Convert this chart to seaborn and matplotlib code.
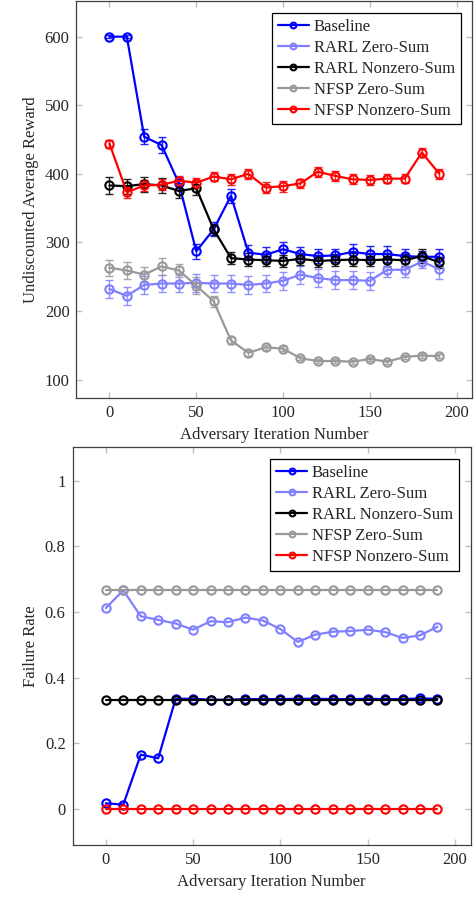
import matplotlib
matplotlib.use('Agg')
import matplotlib.pyplot as plt
import seaborn as sns
import pandas as pd
from matplotlib.ticker import FuncFormatter

iterations = list(range(0, 200, 10))
series_names = ['Baseline', 'RARL Zero-Sum', 'RARL Nonzero-Sum', 'NFSP Zero-Sum', 'NFSP Nonzero-Sum']
series_colors = ['#0000ff', '#8080ff', '#000000', '#999999', '#ff0000']

# undiscounted average reward (top panel)
reward_baseline = [600, 600, 454, 442, 386, 287, 319, 368, 285, 282, 290, 283, 280, 281, 286, 283, 283, 280, 279, 279]
reward_rarl_zero = [232, 222, 238, 240, 240, 241, 240, 240, 238, 240, 244, 253, 248, 245, 245, 244, 260, 260, 272, 261]
reward_rarl_nonzero = [383, 382, 385, 383, 375, 379, 319, 277, 275, 274, 273, 276, 273, 274, 275, 274, 275, 274, 280, 271]
reward_nfsp_zero = [263, 259, 253, 265, 259, 237, 214, 157, 139, 147, 145, 131, 127, 127, 126, 130, 126, 133, 135, 134]
reward_nfsp_nonzero = [444, 373, 383, 384, 390, 387, 396, 392, 400, 380, 382, 386, 403, 397, 392, 391, 393, 393, 431, 400]

err_baseline = [2, 2, 11, 11, 10, 11, 10, 10, 11, 11, 11, 10, 10, 10, 11, 11, 11, 10, 8, 11]
err_rarl_zero = [13, 13, 13, 13, 13, 13, 13, 13, 13, 13, 13, 13, 13, 13, 13, 13, 10, 10, 10, 14]
err_rarl_nonzero = [12, 11, 11, 11, 11, 10, 8, 9, 9, 9, 9, 9, 9, 9, 9, 9, 9, 9, 10, 8]
err_nfsp_zero = [12, 12, 11, 12, 10, 12, 8, 5, 4, 4, 4, 3, 3, 3, 3, 3, 3, 3, 3, 3]
err_nfsp_nonzero = [6, 8, 8, 8, 7, 7, 7, 8, 7, 8, 8, 7, 7, 7, 7, 7, 7, 7, 7, 7]

# failure rate (bottom panel)
fail_baseline = [0.018, 0.014, 0.166, 0.155, 0.336, 0.336, 0.333, 0.333, 0.335, 0.335,
                 0.335, 0.336, 0.336, 0.335, 0.335, 0.336, 0.335, 0.335, 0.337, 0.336]
fail_rarl_zero = [0.612, 0.666, 0.587, 0.576, 0.565, 0.546, 0.572, 0.569, 0.583, 0.574,
                  0.548, 0.509, 0.531, 0.540, 0.542, 0.546, 0.539, 0.521, 0.529, 0.555]
fail_rarl_nonzero = [0.333] * 20
fail_nfsp_zero = [0.667] * 20
fail_nfsp_nonzero = [0.0] * 20

rewards = [reward_baseline, reward_rarl_zero, reward_rarl_nonzero, reward_nfsp_zero, reward_nfsp_nonzero]
errors = [err_baseline, err_rarl_zero, err_rarl_nonzero, err_nfsp_zero, err_nfsp_nonzero]
failures = [fail_baseline, fail_rarl_zero, fail_rarl_nonzero, fail_nfsp_zero, fail_nfsp_nonzero]

sns.set_style('ticks')
plt.rcParams['font.family'] = ['Liberation Serif', 'DejaVu Serif']
plt.rcParams['font.size'] = 12
plt.rcParams['mathtext.fontset'] = 'stix'

fig = plt.figure(figsize=(4.76, 9.18), dpi=100)
ax1 = fig.add_axes([0.1607, 0.5664, 0.8315, 0.4325])
ax2 = fig.add_axes([0.1527, 0.0795, 0.836, 0.4332])

for name, color, vals, err in zip(series_names, series_colors, rewards, errors):
    df = pd.DataFrame({'iteration': iterations, 'value': vals})
    ax1.errorbar(df['iteration'], df['value'], yerr=err, fmt='none', ecolor=color,
                 elinewidth=1.0, capsize=3, capthick=1.0, alpha=0.85, zorder=2)
    sns.lineplot(data=df, x='iteration', y='value', ax=ax1, color=color, label=name,
                 marker='o', markersize=6, markerfacecolor='none', markeredgecolor=color,
                 markeredgewidth=1.5, linewidth=1.6, errorbar=None, zorder=3)

for name, color, vals in zip(series_names, series_colors, failures):
    df = pd.DataFrame({'iteration': iterations, 'value': vals})
    sns.lineplot(data=df, x='iteration', y='value', ax=ax2, color=color, label=name,
                 marker='o', markersize=6, markerfacecolor='none', markeredgecolor=color,
                 markeredgewidth=1.5, linewidth=1.6, errorbar=None)

ax1.set_xlim(-19, 209)
ax1.set_ylim(73, 652)
ax1.set_yticks([100, 200, 300, 400, 500, 600])
ax1.set_ylabel('Undiscounted Average Reward')

ax2.set_xlim(-19, 209)
ax2.set_ylim(-0.109, 1.101)
ax2.set_yticks([0, 0.2, 0.4, 0.6, 0.8, 1.0])
ax2.yaxis.set_major_formatter(FuncFormatter(lambda v, p: '{:g}'.format(round(v, 2))))
ax2.set_ylabel('Failure Rate')

for ax in (ax1, ax2):
    ax.set_xticks([0, 50, 100, 150, 200])
    ax.set_xlabel('Adversary Iteration Number')
    ax.tick_params(direction='in', length=4, width=1, color='#c0c0c0',
                   top=True, right=True, labelsize=12, pad=5)
    for sp in ax.spines.values():
        sp.set_color('#404040')
        sp.set_linewidth(0.9)
    leg = ax.legend(loc='upper right', fontsize=12, frameon=True, fancybox=False,
                    edgecolor='black', framealpha=1, handlelength=1.85,
                    handletextpad=0.3, labelspacing=0.3, borderpad=0.35,
                    borderaxespad=0.7, markerscale=0.7)
    leg.get_frame().set_linewidth(0.9)

plt.savefig('out.png', dpi=100)
